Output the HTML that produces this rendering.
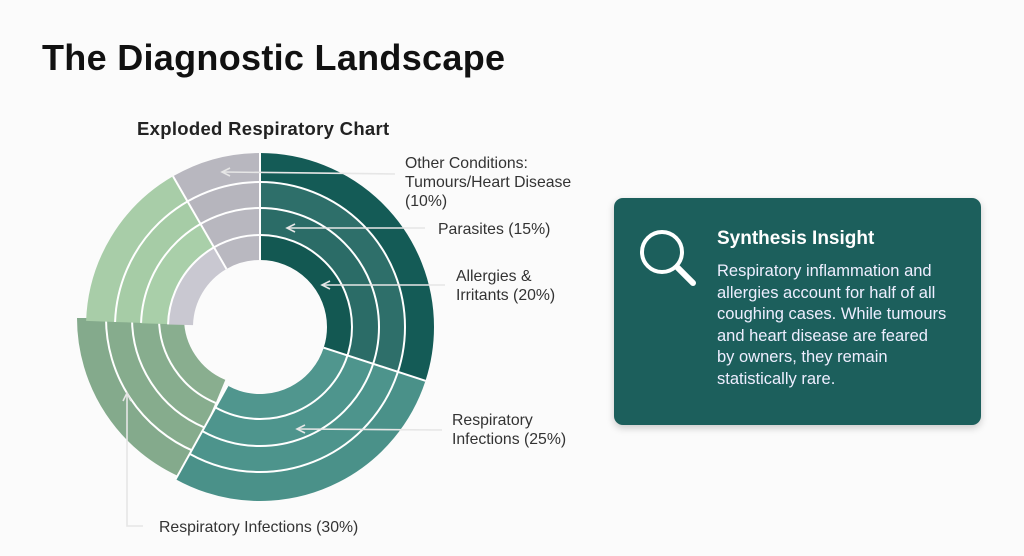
<!DOCTYPE html>
<html><head><meta charset="utf-8"><style>
html,body{margin:0;padding:0;background:#fbfbfb;width:1024px;height:556px;overflow:hidden;font-family:"Liberation Sans",sans-serif}
.t{position:absolute;left:42px;top:37px;font-size:36px;font-weight:bold;color:#111;letter-spacing:0.3px}
.st{position:absolute;left:137px;top:118px;font-size:18.5px;font-weight:bold;color:#222;letter-spacing:0.3px}
.box{position:absolute;left:614px;top:198px;width:367px;height:227px;background:#1c5f5c;border-radius:9px;box-shadow:0 3px 8px rgba(0,0,0,.2)}
.bh{position:absolute;left:103px;top:30px;font-size:19px;font-weight:bold;color:#fff}
.bb{position:absolute;left:103px;top:63px;width:265px;font-size:16.5px;line-height:21.6px;color:#eef;white-space:nowrap}
</style></head><body>
<div class="t">The Diagnostic Landscape</div>
<div class="st">Exploded Respiratory Chart</div>
<svg width="1024" height="556" style="position:absolute;left:0;top:0">
<g transform="translate(251,318)">
 <g transform="rotate(-90)" fill="none">
 <g transform="rotate(203)">
 <circle r="159.5" stroke="#84aa8c" stroke-width="29" pathLength="360" stroke-dasharray="67 293"/>
 <circle r="132" stroke="#86ac8d" stroke-width="26" pathLength="360" stroke-dasharray="67 293"/>
 <circle r="105.5" stroke="#87ad8e" stroke-width="27" pathLength="360" stroke-dasharray="67 293"/>
 <circle r="79.5" stroke="#89ae8f" stroke-width="25" pathLength="360" stroke-dasharray="67 293"/>
 </g>
 <g stroke="#fff" stroke-width="2" transform="rotate(203)">
 <circle r="145" pathLength="360" stroke-dasharray="67 293"/>
 <circle r="119" pathLength="360" stroke-dasharray="67 293"/>
 <circle r="92" pathLength="360" stroke-dasharray="67 293"/>
 </g>
 </g>
</g>
<g transform="translate(260,327) rotate(-90)" fill="none">
 <circle r="159.5" stroke="#145b56" stroke-width="29" pathLength="360" stroke-dasharray="108 252"/>
 <circle r="132" stroke="#2e6f6a" stroke-width="26" pathLength="360" stroke-dasharray="108 252"/>
 <circle r="105.5" stroke="#2b6c67" stroke-width="27" pathLength="360" stroke-dasharray="108 252"/>
 <circle r="79.5" stroke="#135852" stroke-width="25" pathLength="360" stroke-dasharray="108 252"/>
 <g transform="rotate(108)">
 <circle r="159.5" stroke="#4a9189" stroke-width="29" pathLength="360" stroke-dasharray="101 259"/>
 <circle r="132" stroke="#4d948c" stroke-width="26" pathLength="360" stroke-dasharray="101 259"/>
 <circle r="105.5" stroke="#4e958d" stroke-width="27" pathLength="360" stroke-dasharray="101 259"/>
 <circle r="79.5" stroke="#50968e" stroke-width="25" pathLength="360" stroke-dasharray="101 259"/>
 </g>
 <g transform="rotate(272)">
 <circle r="159.5" stroke="#a8cda8" stroke-width="29" pathLength="360" stroke-dasharray="58 302"/>
 <circle r="132" stroke="#a6cca6" stroke-width="26" pathLength="360" stroke-dasharray="58 302"/>
 <circle r="105.5" stroke="#a9cfa9" stroke-width="27" pathLength="360" stroke-dasharray="58 302"/>
 <circle r="79.5" stroke="#c9c8d1" stroke-width="25" pathLength="360" stroke-dasharray="58 302"/>
 </g>
 <g transform="rotate(330)">
 <circle r="159.5" stroke="#b8b7bf" stroke-width="29" pathLength="360" stroke-dasharray="30 330"/>
 <circle r="132" stroke="#b6b5bd" stroke-width="26" pathLength="360" stroke-dasharray="30 330"/>
 <circle r="105.5" stroke="#b8b7bf" stroke-width="27" pathLength="360" stroke-dasharray="30 330"/>
 <circle r="79.5" stroke="#b9b8c0" stroke-width="25" pathLength="360" stroke-dasharray="30 330"/>
 </g>
 <g stroke="#fff" stroke-width="2">
 <circle r="145" pathLength="360" stroke-dasharray="209 63 88 0"/>
 <circle r="119" pathLength="360" stroke-dasharray="209 63 88 0"/>
 <circle r="92" pathLength="360" stroke-dasharray="209 63 88 0"/>
 </g>
</g>
<g stroke="#fff" stroke-width="2">
 <line x1="260" y1="260" x2="260" y2="153"/>
 <line x1="323.7" y1="347.7" x2="425.5" y2="380.8"/>
 <line x1="226.5" y1="269" x2="173" y2="176.3"/>
 <line x1="227.5" y1="385.6" x2="175.6" y2="479.3"/>
</g>
<g stroke="#e6e6e6" stroke-width="1.6" fill="none">
 <path d="M395 174 L223 172"/><path d="M230 168 L222 172 L230 176"/>
 <path d="M425 228 L288 228"/><path d="M295 224 L287 228 L295 232"/>
 <path d="M445 285 L323 285"/><path d="M330 281 L322 285 L330 289"/>
 <path d="M442 430 L298 429"/><path d="M305 425 L297 429 L305 433"/>
 <path d="M143 526 L127 526 L127 394"/><path d="M123 401 L127 393 L131 401"/>
</g>
<g font-family="Liberation Sans, sans-serif" font-size="15.8" fill="#333">
 <text x="405" y="168">Other Conditions:</text>
 <text x="405" y="187">Tumours/Heart Disease</text>
 <text x="405" y="206">(10%)</text>
 <text x="438" y="234">Parasites (15%)</text>
 <text x="456" y="281">Allergies &amp;</text>
 <text x="456" y="300">Irritants (20%)</text>
 <text x="452" y="425">Respiratory</text>
 <text x="452" y="444">Infections (25%)</text>
 <text x="159" y="532">Respiratory Infections (30%)</text>
</g>
</svg>
<div class="box">
 <svg width="80" height="80" style="position:absolute;left:22px;top:28px">
  <circle cx="26" cy="26" r="20" fill="none" stroke="#fff" stroke-width="4"/>
  <line x1="41" y1="41" x2="57" y2="57" stroke="#fff" stroke-width="6" stroke-linecap="round"/>
 </svg>
 <div class="bh">Synthesis Insight</div>
 <div class="bb">Respiratory inflammation and<br>allergies account for half of all<br>coughing cases. While tumours<br>and heart disease are feared<br>by owners, they remain<br>statistically rare.</div>
</div>
</body></html>
